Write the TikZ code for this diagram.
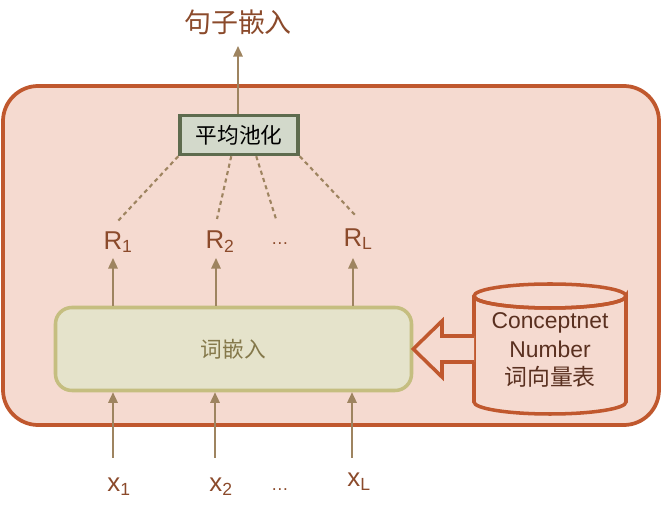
\documentclass[tikz,border=0pt]{standalone}
\usepackage{fontspec}
\setmainfont{Liberation Sans}
\newfontfamily\cjk{Noto Sans CJK SC}
\usetikzlibrary{shapes.geometric,arrows.meta}
\definecolor{bgpink}{HTML}{F5DAD0}
\definecolor{rust}{HTML}{C0582E}
\definecolor{khaki}{HTML}{9E8460}
\definecolor{txtbrown}{HTML}{8B4A2B}
\definecolor{poolfill}{HTML}{D3D9CB}
\definecolor{poolline}{HTML}{5E6B4E}
\definecolor{embfill}{HTML}{E5E3CB}
\definecolor{embline}{HTML}{C5BE80}
\definecolor{embtxt}{HTML}{84784A}
\definecolor{dbtxt}{HTML}{5A3020}
\tikzset{
  arr/.style={draw=khaki, line width=1.6pt, -{Triangle[length=9pt,width=8pt]}},
  dots/.style={draw=khaki, line width=1.8pt, dash pattern=on 3.5pt off 3pt},
  lbl/.style={text=txtbrown, font=\fontsize{22}{24}\selectfont, inner sep=0pt},
}
\begin{document}
\begin{tikzpicture}[x=0.03cm,y=-0.03cm]
\useasboundingbox (0,0) rectangle (662,515);
% outer frame
\draw[rust, fill=bgpink, line width=3.2pt, rounded corners=30] (3,86) rectangle (659,425);
% title
\node[text=txtbrown, inner sep=0pt] (title) at (238,22) {\cjk\fontsize{23}{25}\selectfont 句子嵌入};
% pooling box
\node[draw=poolline, fill=poolfill, line width=3pt, minimum width=118*0.03cm, minimum height=39*0.03cm, inner sep=0pt] (pool) at (239,135) {\cjk\fontsize{18.5}{20}\selectfont 平均池化};
\coordinate (ttop) at (238,46);
\draw[arr] (pool.north -| ttop) -- (ttop);
% embedding box
\node[draw=embline, fill=embfill, line width=3pt, rounded corners=14, minimum width=356*0.03cm, minimum height=83*0.03cm, inner sep=0pt, text=embtxt] (emb) at (233.5,349) {\cjk\fontsize{18.5}{20}\selectfont 词嵌入};
% R labels
\node[lbl] (r1) at (118,242) {R\textsubscript{\fontsize{15}{16}\selectfont 1}};
\node[lbl] (r2) at (220,242) {R\textsubscript{\fontsize{15}{16}\selectfont 2}};
\node[lbl] (rd) at (280,244) {\fontsize{15}{16}\selectfont \ldots};
\node[lbl] (rl) at (358,239) {R\textsubscript{\fontsize{15}{16}\selectfont L}};
% dotted
\coordinate (d1) at (117,222);
\coordinate (d2) at (217,219);
\coordinate (d3) at (276,219);
\coordinate (d4) at (356,216);
\draw[dots] (pool.south west) -- (d1);
\draw[dots] ([xshift=53*0.03cm]pool.south west) -- (d2);
\draw[dots] ([xshift=78*0.03cm]pool.south west) -- (d3);
\draw[dots] (pool.south east) -- (d4);
% up arrows from emb
\coordinate (a1) at (113,258);
\coordinate (a2) at (216,258);
\coordinate (a3) at (353,258);
\draw[arr] (emb.north -| a1) -- (a1);
\draw[arr] (emb.north -| a2) -- (a2);
\draw[arr] (emb.north -| a3) -- (a3);
% inputs
\coordinate (b1) at (113,458);
\coordinate (b2) at (215,458);
\coordinate (b3) at (352,458);
\draw[arr] (b1) -- (emb.south -| b1);
\draw[arr] (b2) -- (emb.south -| b2);
\draw[arr] (b3) -- (emb.south -| b3);
\node[lbl] (x1) at (119,487) {x\textsubscript{\fontsize{15}{16}\selectfont 1}};
\node[lbl] (x2) at (221,487) {x\textsubscript{\fontsize{15}{16}\selectfont 2}};
\node[lbl] (xd) at (280,490) {\fontsize{15}{16}\selectfont \ldots};
\node[lbl] (xl) at (359,482) {x\textsubscript{\fontsize{15}{16}\selectfont L}};
% cylinder (drawn directly)
\coordinate (dbw) at (474,349);
\draw[rust, fill=bgpink, line width=3pt]
  (474,296) -- (474,402) arc[start angle=180, end angle=360, x radius=76, y radius=-12] -- (626,296)
  arc[start angle=0, end angle=-180, x radius=76, y radius=-12];
\draw[rust, line width=3pt] (550,296) ellipse[x radius=76, y radius=-12];
\node[text=dbtxt, align=center, inner sep=0pt, font=\fontsize{19.5}{24}\selectfont] (dbt) at (550,350) {Conceptnet\\Number\\{\cjk 词向量表}};
% hollow arrow
\coordinate (h1) at (442,336);
\coordinate (h2) at (442,362);
\draw[rust, fill=bgpink, line width=3pt, line join=miter]
  (dbw |- h1) -- (h1) -- (442,321) -- (emb.east) -- (442,377) -- (h2) -- (dbw |- h2);
\end{tikzpicture}
\end{document}
